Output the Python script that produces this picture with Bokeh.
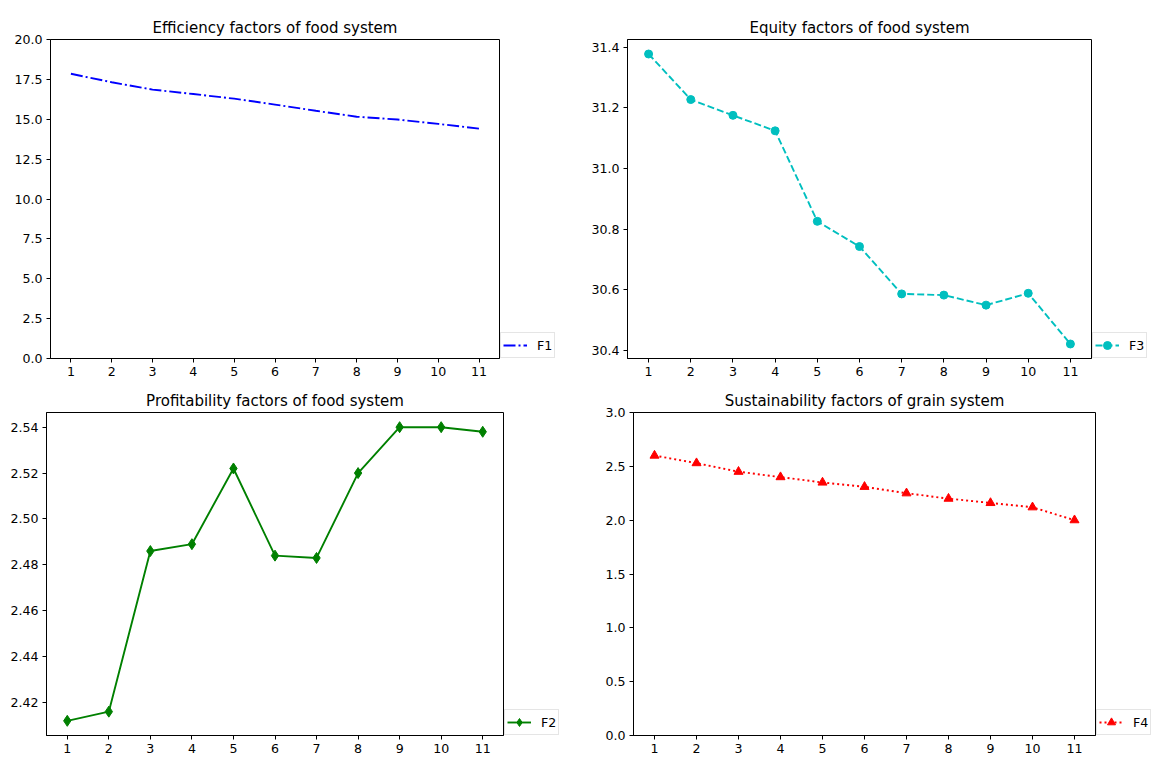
from bokeh.plotting import figure
from bokeh.layouts import column, row
from bokeh.models import Range1d, FixedTicker, NumeralTickFormatter, Legend, LegendItem
from bokeh.embed import file_html
from bokeh.resources import INLINE

# ---------------- data ----------------
periods = [1, 2, 3, 4, 5, 6, 7, 8, 9, 10, 11]
f1_efficiency = [17.85, 17.32, 16.86, 16.58, 16.29, 15.92, 15.53, 15.16, 14.98, 14.71, 14.41]
f3_equity = [31.377, 31.227, 31.175, 31.124, 30.826, 30.743, 30.587, 30.583, 30.550, 30.589, 30.422]
f2_profitability = [2.412, 2.416, 2.486, 2.489, 2.522, 2.484, 2.483, 2.520, 2.540, 2.540, 2.538]
f4_sustainability = [2.60, 2.53, 2.45, 2.40, 2.35, 2.31, 2.25, 2.20, 2.16, 2.12, 2.00]

f1_ticks = [0.0, 2.5, 5.0, 7.5, 10.0, 12.5, 15.0, 17.5, 20.0]
f3_ticks = [30.4, 30.6, 30.8, 31.0, 31.2, 31.4]
f2_ticks = [2.42, 2.44, 2.46, 2.48, 2.50, 2.52, 2.54]
f4_ticks = [0.0, 0.5, 1.0, 1.5, 2.0, 2.5, 3.0]

titles = ["Efficiency factors of food system", "Equity factors of food system",
          "Profitability factors of food system", "Sustainability factors of grain system"]

FONT = "DejaVu Sans"
TICK_PX = "12.6px"
TITLE_PX = "15px"

STYLES = {
    "F1": dict(color="#0000ff", dash="12 3 2 3", marker=None, size=0),
    "F3": dict(color="#00bfbf", dash="7 3", marker="circle", size=8),
    "F2": dict(color="#008000", dash="solid", marker="diamond", size=11),
    "F4": dict(color="#ff0000", dash="2 3", marker="triangle", size=9),
}


def padded(vals):
    lo, hi = min(vals), max(vals)
    span = hi - lo
    return lo - 0.05 * span, hi + 0.05 * span


def make_fig(title, width, height, left, top, bottom, yr, yticks, yfmt):
    p = figure(width=width, height=height, output_backend="svg", toolbar_location=None,
               x_range=Range1d(0.5, 11.5), y_range=Range1d(*yr),
               min_border_left=left, min_border_right=1,
               min_border_top=top, min_border_bottom=bottom)
    p.title.text = title
    p.title.text_font = FONT
    p.title.text_font_size = TITLE_PX
    p.title.text_font_style = "normal"
    p.title.align = "center"
    p.title.text_color = "black"
    p.title.standoff = 5
    p.xgrid.visible = False
    p.ygrid.visible = False
    p.outline_line_color = "black"
    p.outline_line_alpha = 1.0
    p.outline_line_width = 1
    p.background_fill_color = "white"
    p.border_fill_color = "white"
    for ax in (p.xaxis[0], p.yaxis[0]):
        ax.axis_line_color = "black"
        ax.axis_line_width = 1
        ax.major_tick_line_color = "black"
        ax.major_tick_line_width = 1
        ax.major_tick_in = 0
        ax.major_tick_out = 4
        ax.minor_tick_line_color = None
        ax.major_label_text_font = FONT
        ax.major_label_text_font_size = TICK_PX
        ax.major_label_text_color = "black"
        ax.major_label_standoff = 4
    p.xaxis.ticker = FixedTicker(ticks=periods)
    p.yaxis.ticker = FixedTicker(ticks=yticks)
    p.yaxis.formatter = NumeralTickFormatter(format=yfmt)
    return p


def draw_series(fig, xs, ys, key):
    st = STYLES[key]
    rs = [fig.line(xs, ys, line_color=st["color"], line_width=1.9, line_dash=st["dash"])]
    if st["marker"]:
        rs.append(fig.scatter(xs, ys, marker=st["marker"], size=st["size"],
                              fill_color=st["color"], line_color=st["color"]))
    return rs


def legend_fig(width, height, bottom, key, xs, ys):
    # a narrow panel right of a plot frame, holding that plot's legend box;
    # its ranges lie far from the data, so only the legend shows
    lf = figure(width=width, height=height, output_backend="svg", toolbar_location=None,
                x_axis_type=None, y_axis_type=None,
                x_range=Range1d(1000, 1001), y_range=Range1d(1000, 1001),
                min_border_left=0, min_border_right=0, min_border_top=0,
                min_border_bottom=bottom, outline_line_color=None)
    lf.background_fill_color = "white"
    lf.border_fill_color = "white"
    rs = draw_series(lf, xs, ys, key)
    leg = Legend(items=[LegendItem(label=key, renderers=rs)],
                 location="bottom_left", margin=0, padding=2,
                 glyph_width=24, glyph_height=20, label_height=20, label_width=14,
                 label_standoff=10, spacing=0,
                 label_text_font=FONT, label_text_font_size=TICK_PX, label_text_color="black",
                 border_line_color="#cccccc", border_line_width=1,
                 background_fill_color="white", background_fill_alpha=0.8)
    lf.add_layout(leg, "center")
    return lf


H1, H2 = 384, 374

# top-left: efficiency
p1 = make_fig(titles[0], 500, H1, 50, 32, 26, (0, 20), f1_ticks, "0.0")
draw_series(p1, periods, f1_efficiency, "F1")
l1 = legend_fig(60, H1, 26, "F1", periods, f1_efficiency)

# top-right: equity
p2 = make_fig(titles[1], 532, H1, 67, 39, 24, padded(f3_equity), f3_ticks, "0.0")
draw_series(p2, periods, f3_equity, "F3")
l2 = legend_fig(61, H1, 24, "F3", periods, f3_equity)

# bottom-left: profitability
p3 = make_fig(titles[2], 504, H2, 46, 28, 23, padded(f2_profitability), f2_ticks, "0.00")
draw_series(p3, periods, f2_profitability, "F2")
l3 = legend_fig(56, H2, 23, "F2", periods, f2_profitability)

# bottom-right: sustainability
p4 = make_fig(titles[3], 536, H2, 73, 27, 23, (0, 3), f4_ticks, "0.0")
draw_series(p4, periods, f4_sustainability, "F4")
l4 = legend_fig(57, H2, 23, "F4", periods, f4_sustainability)

layout = column(row(p1, l1, p2, l2), row(p3, l3, p4, l4))
open("out.html", "w").write(file_html(layout, INLINE))
